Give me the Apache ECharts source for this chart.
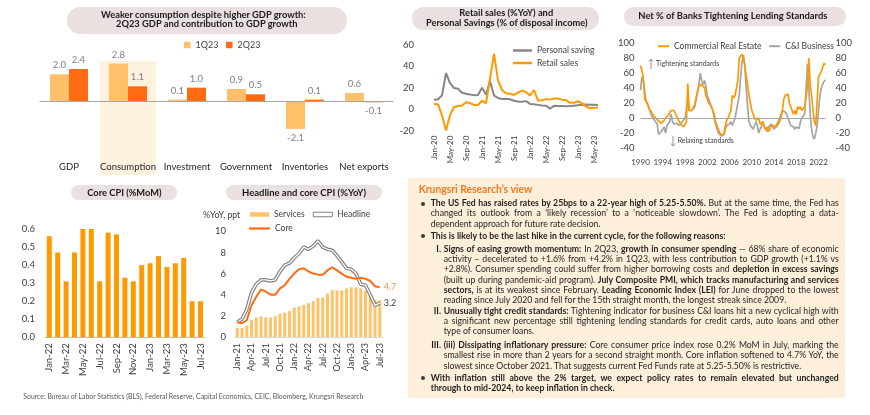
<!DOCTYPE html>
<html><head><meta charset="utf-8">
<script src="https://cdn.jsdelivr.net/npm/echarts@6/dist/echarts.min.js"></script>
<style>
html,body{margin:0;padding:0;background:#fff;}
body{width:870px;height:415px;position:relative;overflow:hidden;font-family:Lato,"Open Sans",sans-serif;color:#262626;}
#chart{position:absolute;left:0;top:0;width:870px;height:415px;}
.pill{position:absolute;background:#e9e0df;}
.ov{position:absolute;white-space:nowrap;pointer-events:none;}
#box{position:absolute;left:408px;top:178px;width:437px;height:220px;background:#feefda;}
.dot{position:absolute;width:4px;height:4px;border-radius:50%;background:#3a3a3a;}
</style></head>
<body>
<div id="box"></div>
<div id="chart"></div>
<script>
// ---------------- DATA ----------------
const gdpCats = ['GDP','Consumption','Investment','Government','Inventories','Net exports'];
const gdp1Q23 = [2.0, 2.8, 0.1, 0.9, -2.1, 0.6];
const gdp2Q23 = [2.4, 1.1, 1.0, 0.5, 0.1, -0.1];
const gdpHighlight = [null, 1, null, null, null, null];

const MON = ['Jan','Feb','Mar','Apr','May','Jun','Jul','Aug','Sep','Oct','Nov','Dec'];
function months(y, m, n){const o=[];for(let i=0;i<n;i++){const k=m+i;o.push(MON[k%12]+'-'+String(y+Math.floor(k/12)).slice(2));}return o;}
function quarters(y, q, n){const o=[];for(let i=0;i<n;i++){const k=q+i;o.push((y+Math.floor(k/4))+'Q'+(k%4+1));}return o;}

const retailMonths = months(2020, 0, 42);
const personalSaving = [9.0,9.3,13.0,33.8,24.5,19.8,19.2,15.5,14.5,13.8,13.2,13.4,
  20.0,13.5,26.3,12.8,10.6,9.6,9.8,9.4,8.0,7.3,7.0,7.6,
  5.0,4.6,4.1,3.6,3.4,0.5,3.2,3.0,3.0,2.8,3.0,3.4,
  3.8,4.2,4.5,4.2,4.3,4.0];
const retailSales = [4.9,4.8,-5.7,-19.9,-5.6,2.1,3.0,3.5,6.5,5.8,4.0,4.0,
  8.0,5.5,28.5,52.0,27.0,18.0,15.0,14.5,13.5,15.5,17.5,16.0,
  13.0,18.0,8.0,8.5,9.5,9.0,10.0,10.0,9.0,8.5,6.0,6.0,
  7.5,5.5,2.5,1.0,1.5,1.5];

const bankQuarters = quarters(1990, 1, 134);
const creTightening = [
  70,63,55,            // 1990
  25,27,20,12, 10,8,4,2, 0,-2,-4,-6, -7,-5,-3,0, 2,4,7,10,       // 1991-95
  12,10,6,2, -2,-5,-8,-10, -12,-8,-5,46, 10,9,10,12, 18,27,35,42, // 1996-2000
  44,45,47,40, 30,25,20,18, 15,10,5,-5, -10,-15,-20,-22, -24,-20,-10,-3, // 2001-05
  0,5,10,30, 27,30,28,50, 80,80,85,80, 70,55,45,30, 20,10,5,0,   // 2006-10
  -3,-5,0,-8, -10,-5,-12,-15, -12,-18,-15,-10, -12,-10,-8,-12, -8,-5,0,10, // 2011-15
  25,30,28,32, 20,15,10,5, 10,5,15,12, 15,10,12,15, 15,40,80,45, // 2016-20
  30,10,-5,-10, -10,55,58,62,   // 2021-22
  68,73,71];           // 2023
const ciTightening = [
  37,55,50,
  52,22,20,15, 8,3,0,-3, -5,-8,-22,-20, -18,-15,-12,-20, -10,-8,-5,5,
  -5,-8,-10,-7, -8,-10,-12,-5, -3,0,2,25, 10,8,10,8, 15,25,35,45,
  60,50,45,50, 42,30,25,20, 15,10,0,-8, -15,-20,-22,-24, -25,-22,-15,-10,
  -10,-8,-5,-10, -5,0,10,20, 30,55,75,84, 70,40,15,-5, -10,-12,-15,-10,
  -5,-10,-20,-15, -10,-5,-12,-15, -18,-12,-10,-8, -10,-15,-12,-8, -5,0,5,10,
  12,8,5,0, -5,-10,-10,-12, -15,-12,-12,-14, -5,0,2,5, 5,72,40,5,
  -15,-25,-28,-20, -10,10,30,40,
  45,49,51];

const coreMonths = months(2022, 0, 19);
const coreCpiMoM = [0.56,0.47,0.31,0.47,0.60,0.60,0.31,0.58,0.57,0.33,0.31,0.40,0.41,0.45,0.39,0.41,0.44,0.20,0.20];

const yoyMonths = months(2021, 0, 31);
const servicesPpt = [0.85,0.85,1.1,1.6,1.85,1.95,1.85,1.85,1.95,2.2,2.3,2.45,
  2.8,2.9,3.05,3.2,3.4,3.7,3.75,4.1,4.45,4.4,4.4,4.6,
  4.7,4.7,4.6,4.4,4.1,3.5,3.5];
const headlineYoY = [1.4,1.7,2.6,4.2,5.0,5.4,5.4,5.3,5.4,6.2,6.8,7.0,
  7.5,7.9,8.5,8.3,8.6,9.1,8.5,8.3,8.2,7.7,7.1,6.5,
  6.4,6.0,5.0,4.9,4.0,3.0,3.2];
const coreYoY = [1.4,1.3,1.6,3.0,3.8,4.5,4.3,4.0,4.0,4.6,4.9,5.5,
  6.0,6.4,6.5,6.2,6.0,5.9,5.9,6.3,6.6,6.3,6.0,5.7,
  5.6,5.5,5.6,5.5,5.3,4.8,4.7];

// ---------------- CHART ----------------
const FONT = 'Lato, sans-serif';
const AX = '#404040';
const chart = echarts.init(document.getElementById('chart'));
const noLine = {show:false, onZero:false};
const zeroLine = {silent:true, symbol:['none','none'], label:{show:false}, lineStyle:{color:'#a6a6a6', width:1, type:'solid'}, data:[{yAxis:0}]};
const gridBase = {containLabel:false, outerBoundsMode:'none'};

chart.setOption({
  animation:false,
  textStyle:{fontFamily:FONT},
  grid:[
    Object.assign({left:39.5, right:476.5, top:61, bottom:240}, gridBase),
    Object.assign({left:434, right:272, top:45, bottom:284.3}, gridBase),
    Object.assign({left:640.5, right:44.5, top:43, bottom:267}, gridBase),
    Object.assign({left:45.1, right:665.3, top:229, bottom:77.7}, gridBase),
    Object.assign({left:234.9, right:487.9, top:231.3, bottom:78}, gridBase)
  ],
  xAxis:[
    {gridIndex:0, type:'category', data:gdpCats, axisLine:noLine, axisTick:{show:false}, z:10,
      axisLabel:{inside:true, interval:0, margin:3, fontSize:9.5, color:'#262626', fontFamily:FONT}},
    {gridIndex:0, type:'category', data:gdpCats, show:false},
    {gridIndex:1, type:'category', data:retailMonths, boundaryGap:false, axisLine:noLine, axisTick:{show:false},
      axisLabel:{rotate:90, interval:3, margin:5, fontSize:8, color:AX, fontFamily:FONT}},
    {gridIndex:2, type:'category', data:bankQuarters, boundaryGap:false, axisLine:noLine, axisTick:{show:false},
      axisLabel:{interval:15, formatter:v=>v.slice(0,4), margin:10, fontSize:8, color:AX, fontFamily:FONT}},
    {gridIndex:3, type:'category', data:coreMonths, axisLine:{onZero:false, lineStyle:{color:'#bfbfbf'}}, axisTick:{show:false},
      axisLabel:{rotate:90, interval:1, margin:6, fontSize:9.5, color:AX, fontFamily:FONT}},
    {gridIndex:4, type:'category', data:yoyMonths, axisLine:{onZero:false, lineStyle:{color:'#d9d9d9'}}, axisTick:{show:false},
      axisLabel:{rotate:90, interval:2, margin:6, fontSize:9, color:AX, fontFamily:FONT}}
  ],
  yAxis:[
    {gridIndex:0, type:'value', min:-5.56, max:3, show:false},
    {gridIndex:0, type:'value', min:0, max:1, show:false},
    {gridIndex:1, type:'value', min:-20, max:60, interval:20, splitLine:{show:false}, axisLine:{show:false},
      axisLabel:{margin:20, fontSize:9.5, color:AX, fontFamily:FONT}},
    {gridIndex:2, type:'value', min:-40, max:100, interval:20, splitLine:{show:false}, axisLine:{show:false},
      axisLabel:{margin:6, fontSize:9.5, color:AX, fontFamily:FONT}},
    {gridIndex:2, type:'value', position:'right', min:-40, max:100, interval:20, splitLine:{show:false}, axisLine:{show:false},
      axisLabel:{margin:10, fontSize:9.5, color:AX, fontFamily:FONT}},
    {gridIndex:3, type:'value', min:0, max:0.6, interval:0.1, splitLine:{show:false}, axisLine:{show:false},
      axisLabel:{margin:10, fontSize:9.5, color:AX, fontFamily:FONT, formatter:v=>v.toFixed(1)}},
    {gridIndex:4, type:'value', min:0, max:10, interval:2, splitLine:{show:false}, axisLine:{show:false},
      axisLabel:{margin:9, fontSize:9.5, color:AX, fontFamily:FONT}}
  ],
  legend:[
    {data:['1Q23','2Q23'], left:184, top:40.5, padding:0, icon:'rect', itemWidth:6.5, itemHeight:6.5, itemGap:7.7,
      textStyle:{fontSize:9, color:AX, fontFamily:FONT}},
    {data:['Personal saving','Retail sales'], orient:'vertical', left:513, top:46, padding:0, icon:'rect', itemWidth:19, itemHeight:2.5, itemGap:3.5,
      textStyle:{fontSize:8.5, color:AX, fontFamily:FONT}},
    {data:['Commercial Real Estate','C&I Business'], left:658, top:41.7, padding:0, icon:'rect', itemWidth:11, itemHeight:2, itemGap:7.7,
      textStyle:{fontSize:8.5, color:AX, fontFamily:FONT}},
    {data:[{name:'Services', icon:'rect'}, {name:'Headline', icon:'rect', itemStyle:{color:'#ffffff', borderColor:'#808080', borderWidth:1}}],
      left:250, top:210, padding:0, itemWidth:19, itemHeight:4.5, itemGap:8, textStyle:{fontSize:8.5, color:AX, fontFamily:FONT}},
    {data:['Core'], left:249, top:224, padding:0, icon:'rect', itemWidth:21, itemHeight:2.2, textStyle:{fontSize:8.5, color:AX, fontFamily:FONT}}
  ],
  series:[
    {type:'bar', name:'highlight', xAxisIndex:1, yAxisIndex:1, data:gdpHighlight, barWidth:56, silent:true, z:0,
      itemStyle:{color:'#fef1de'}},
    {type:'bar', name:'1Q23', xAxisIndex:0, yAxisIndex:0, barWidth:19, barGap:'0%', z:3,
      data:gdp1Q23.map(v=>({value:v, label:{position:v<0?'bottom':'top'}})),
      itemStyle:{color:'#ffc06a'},
      label:{show:true, formatter:p=>p.value.toFixed(1), color:'#7f7f7f', fontSize:9.5, fontFamily:FONT, distance:4},
      markLine:zeroLine},
    {type:'bar', name:'2Q23', xAxisIndex:0, yAxisIndex:0, barWidth:19, barGap:'0%', z:3,
      data:gdp2Q23.map(v=>({value:v, label:{position:v<0?'bottom':'top'}})),
      itemStyle:{color:'#ff6a13'},
      label:{show:true, formatter:p=>p.value.toFixed(1), color:'#7f7f7f', fontSize:9.5, fontFamily:FONT, distance:4}},

    {type:'line', name:'Personal saving', xAxisIndex:2, yAxisIndex:2, data:personalSaving, symbol:'none',
      lineStyle:{color:'#8c8383', width:2}, itemStyle:{color:'#8c8383'}},
    {type:'line', name:'Retail sales', xAxisIndex:2, yAxisIndex:2, data:retailSales, symbol:'none',
      lineStyle:{color:'#ff9900', width:2}, itemStyle:{color:'#ff9900'}},

    {type:'line', name:'C&I Business', xAxisIndex:3, yAxisIndex:3, data:ciTightening, symbol:'none',
      lineStyle:{color:'#a9a3a3', width:1.7}, itemStyle:{color:'#a9a3a3'}, markLine:zeroLine},
    {type:'line', name:'Commercial Real Estate', xAxisIndex:3, yAxisIndex:3, data:creTightening, symbol:'none',
      lineStyle:{color:'#ff9900', width:1.7}, itemStyle:{color:'#ff9900'}},

    {type:'bar', name:'Core CPI MoM', xAxisIndex:4, yAxisIndex:5, data:coreCpiMoM, barWidth:5,
      itemStyle:{color:'#ff9900'}},

    {type:'bar', name:'Services', xAxisIndex:5, yAxisIndex:6, data:servicesPpt, barWidth:3,
      itemStyle:{color:'#ffc266'}},
    {type:'line', name:'Headline', xAxisIndex:5, yAxisIndex:6, data:headlineYoY, symbol:'none',
      lineStyle:{color:'#808080', width:3.6}, itemStyle:{color:'#808080'},
      endLabel:{show:true, formatter:p=>Number(p.value).toFixed(1), color:'#404040', fontSize:9, fontFamily:FONT, distance:4}},
    {type:'line', name:'HeadlineInner', xAxisIndex:5, yAxisIndex:6, data:headlineYoY, symbol:'none', silent:true,
      lineStyle:{color:'#ffffff', width:1.3}},
    {type:'line', name:'Core', xAxisIndex:5, yAxisIndex:6, data:coreYoY, symbol:'none',
      lineStyle:{color:'#ff6a13', width:2}, itemStyle:{color:'#ff6a13'},
      endLabel:{show:true, formatter:p=>Number(p.value).toFixed(1), color:'#f79646', fontSize:9, fontFamily:FONT, distance:4}}
  ]
});

// ---------------- HTML TEXT OVERLAYS ----------------
const FONTCSS = 'Lato, "Open Sans", sans-serif';
function natW(html, fs, weight){
  const s=document.createElement('span');
  s.style.cssText='position:absolute;visibility:hidden;white-space:nowrap;font-family:'+FONTCSS+';font-size:'+fs+'px;font-weight:'+weight;
  s.innerHTML=html; document.body.appendChild(s);
  const w=s.getBoundingClientRect().width; s.remove(); return w;
}
function addDiv(html, x, yc, fs, weight, color, extra){
  const d=document.createElement('div'); d.className='ov';
  d.style.cssText+='left:'+x+'px;top:'+(yc-fs*0.66)+'px;font-size:'+fs+'px;line-height:'+(fs*1.2)+'px;font-weight:'+weight+';color:'+color+';'+(extra||'');
  d.innerHTML=html; document.body.appendChild(d); return d;
}
function fitText(html, x, yc, w, bold, color){
  const wt=bold?'bold':'normal';
  const fs=10*w/natW(html,10,wt);
  return addDiv(html,x,yc,fs,wt,color);
}
function pill(x,y,w,h){
  const d=document.createElement('div'); d.className='pill';
  d.style.cssText+='left:'+x+'px;top:'+y+'px;width:'+w+'px;height:'+h+'px;border-radius:'+(h/2)+'px;';
  document.body.insertBefore(d, document.getElementById('chart'));
}
pill(67,6.5,279.5,27); pill(411.7,6.7,187.3,23.3); pill(624.3,6.7,221.4,19.3); pill(71,184.7,106.3,15); pill(226.3,184.7,156,15);
const TC='#1a1a1a';
fitText('Weaker consumption despite higher GDP growth:',101,14.7,205,true,TC);
fitText('2Q23 GDP and contribution to GDP growth',116,24.3,181.7,true,TC);
fitText('Retail sales (%YoY) and',459.3,12.7,94,true,TC);
fitText('Personal Savings (% of disposal income)',426,22.7,161.7,true,TC);
fitText('Net % of Banks Tightening Lending Standards',638.3,15.7,189.3,true,TC);
fitText('Core CPI (%MoM)',87.3,193,74.3,true,TC);
fitText('Headline and core CPI (%YoY)',242,193,124.3,true,TC);
fitText('%YoY, ppt',203,215.3,37.3,false,'#404040');
fitText('Tightening standards',656,64,63.3,false,'#404040');
fitText('Relaxing standards',677.7,141,56.3,false,'#404040');
fitText('Source: Bureau of Labor Statistics (BLS), Federal Reserve, Capital Economics, CEIC, Bloomberg, Krungsri Research',23.3,396.3,340.4,false,'#595959');
fitText('Krungsri Research’s view',418.7,189.7,113.7,true,'#f07b1f');

// arrows
function arrow(x,y1,y2,up){
  const s=document.createElementNS('http://www.w3.org/2000/svg','svg');
  s.setAttribute('width','8'); s.setAttribute('height',String(y2-y1+2));
  s.style.cssText='position:absolute;left:'+(x-4)+'px;top:'+(y1-1)+'px;';
  const h=y2-y1+2;
  s.innerHTML=up
    ? '<line x1="4" y1="1" x2="4" y2="'+(h-1)+'" stroke="#9e8a8a" stroke-width="1"/><polyline points="2,3.5 4,1 6,3.5" fill="none" stroke="#9e8a8a" stroke-width="1"/>'
    : '<line x1="4" y1="1" x2="4" y2="'+(h-1)+'" stroke="#9e8a8a" stroke-width="1"/><polyline points="2,'+(h-3.5)+' 4,'+(h-1)+' 6,'+(h-3.5)+'" fill="none" stroke="#9e8a8a" stroke-width="1"/>';
  document.body.appendChild(s);
}
arrow(651,59,69,true); arrow(673,136,146,false);

// text box body
const XB=430.7, XN=443.7, XR=838.7;
const lines=[
 {y:203.7,x:XB,dot:true,j:true,h:'<b>The US Fed has raised rates by 25bps to a 22-year high of 5.25-5.50%.</b> But at the same time, the Fed has'},
 {y:214.0,x:XB,j:true,h:'changed its outlook from a ‘likely recession’ to a ‘noticeable slowdown’. The Fed is adopting a data-'},
 {y:224.3,x:XB,end:599.7,h:'dependent approach for future rate decision.'},
 {y:236.3,x:XB,dot:true,end:728,h:'<b>This is likely to be the last hike in the current cycle, for the following reasons:</b>'},
 {y:249.7,x:XN,num:'I.',j:true,h:'<b>Signs of easing growth momentum:</b> In 2Q23, <b>growth in consumer spending</b> -- 68% share of economic'},
 {y:259.9,x:XN,j:true,h:'activity – decelerated to +1.6% from +4.2% in 1Q23, with less contribution to GDP growth (+1.1% vs'},
 {y:270.2,x:XN,j:true,h:'+2.8%). Consumer spending could suffer from higher borrowing costs and <b>depletion in excess savings</b>'},
 {y:280.5,x:XN,j:true,h:'(built up during pandemic-aid program). <b>July Composite PMI, which tracks manufacturing and services</b>'},
 {y:290.5,x:XN,j:true,h:'<b>sectors,</b> is at its weakest since February. <b>Leading Economic Index (LEI)</b> for June dropped to the lowest'},
 {y:300.5,x:XN,end:793.7,h:'reading since July 2020 and fell for the 15th straight month, the longest streak since 2009.'},
 {y:311.7,x:XN,num:'II.',j:true,h:'<b>Unusually tight credit standards:</b> Tightening indicator for business C&amp;I loans hit a new cyclical high with'},
 {y:322.0,x:XN,j:true,h:'a significant new percentage still tightening lending standards for credit cards, auto loans and other'},
 {y:332.0,x:XN,end:534.7,h:'type of consumer loans.'},
 {y:346.0,x:XN,num:'III.',j:true,h:'<b>(iii) Dissipating inflationary pressure:</b> Core consumer price index rose 0.2% MoM in July, marking the'},
 {y:356.2,x:XN,j:true,h:'smallest rise in more than 2 years for a second straight month. Core inflation softened to 4.7% YoY, the'},
 {y:366.3,x:XN,end:797,h:'slowest since October 2021. That suggests current Fed Funds rate at 5.25-5.50% is restrictive.'},
 {y:378.3,x:XB,dot:true,j:true,h:'<b>With inflation still above the 2% target, we expect policy rates to remain elevated but unchanged</b>'},
 {y:388.7,x:XB,end:615.3,h:'<b>through to mid-2024, to keep inflation in check.</b>'}
];
let rl=[], rj=[];
lines.forEach(L=>{const w=natW(L.h,10,'normal'); if(L.j) rj.push((XR-L.x)/w); else rl.push((L.end-L.x)/w);});
const meanL=rl.reduce((a,b)=>a+b,0)/rl.length;
const FS=10*Math.min(meanL, Math.min.apply(null,rj)*0.995);
lines.forEach(L=>{
  const extra=L.j?'width:'+(XR-L.x)+'px;text-align:justify;text-align-last:justify;white-space:nowrap;':'';
  addDiv(L.h,L.x,L.y,FS,'normal','#1f1f1f',extra);
  if(L.dot){const d=document.createElement('div');d.className='dot';d.style.left='420.7px';d.style.top=(L.y-2)+'px';document.body.appendChild(d);}
  if(L.num){addDiv('<b>'+L.num+'</b>',420,L.y,FS,'normal','#1f1f1f','width:21px;text-align:right;');}
});
</script>
</body></html>
